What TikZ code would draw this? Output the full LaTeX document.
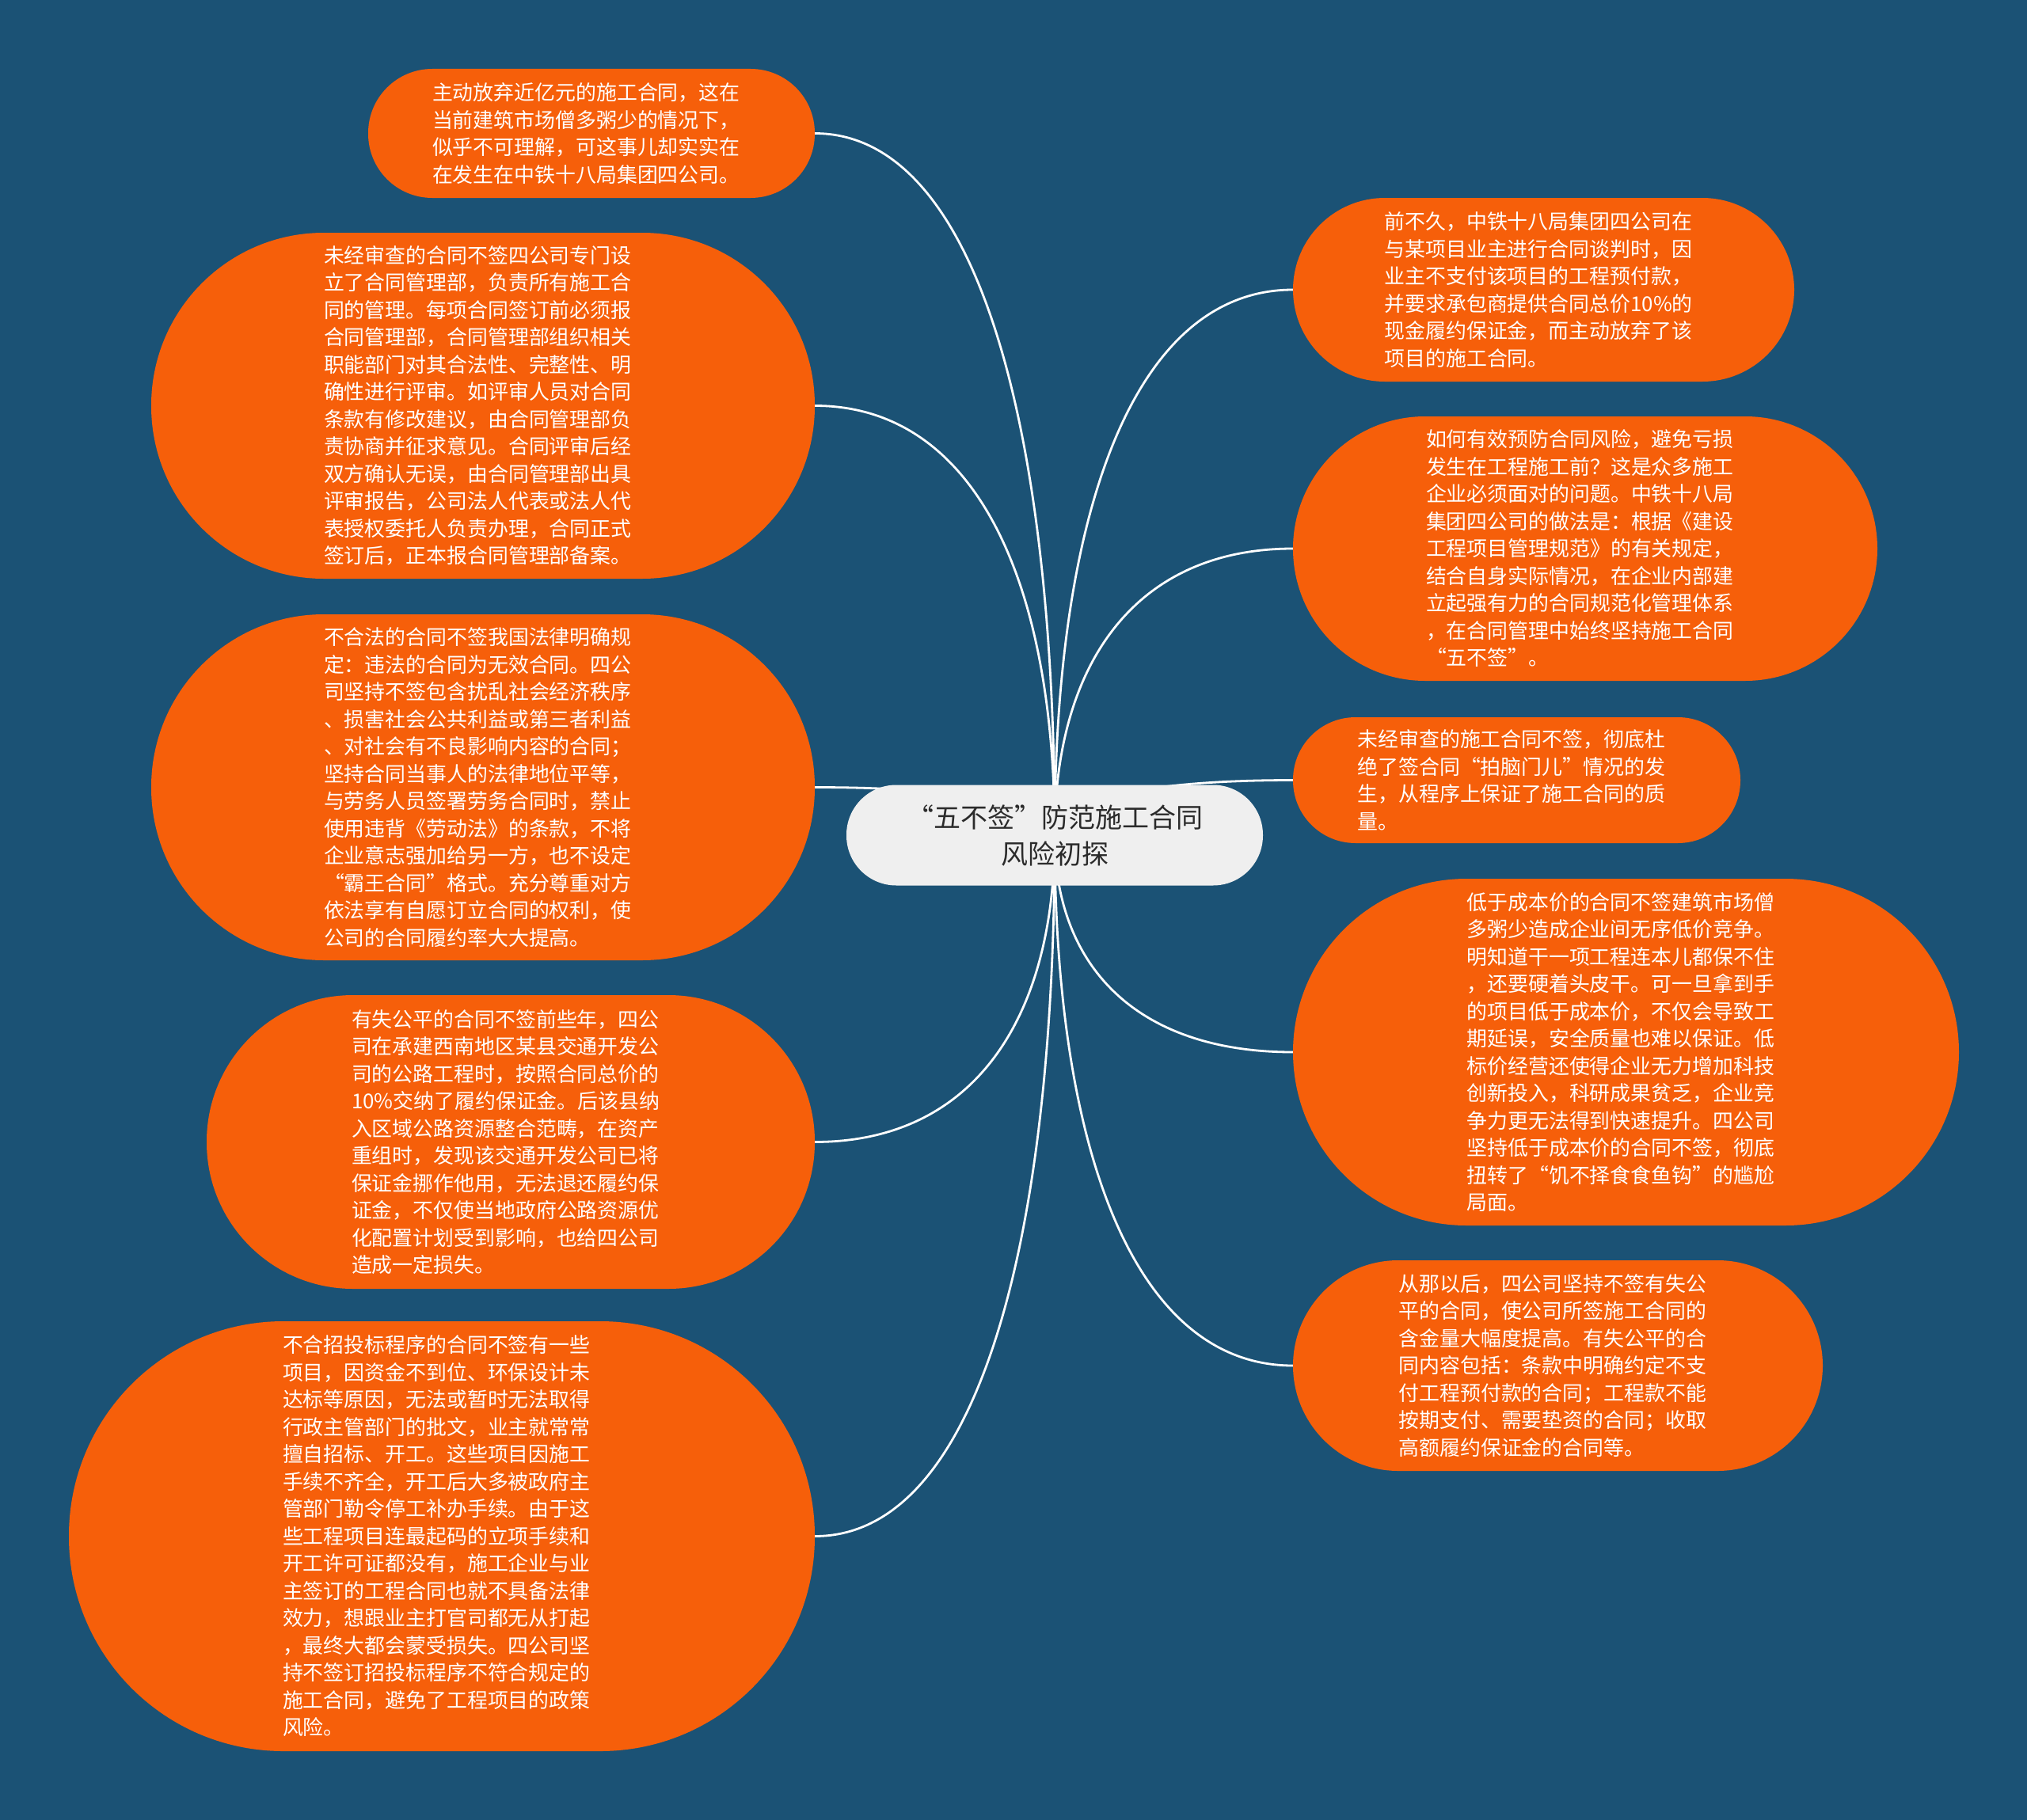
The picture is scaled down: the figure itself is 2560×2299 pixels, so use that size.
\documentclass[tikz,border=0pt]{standalone}
\usepackage{fontspec}
\setmainfont{Noto Sans CJK SC}
\usetikzlibrary{calc}
\definecolor{bgc}{HTML}{1B5275}
\definecolor{orangec}{HTML}{F65F0A}
\definecolor{hubc}{HTML}{EFEFEF}
\definecolor{hubtext}{HTML}{2B2B2B}
\pgfdeclarelayer{bglayer}
\pgfdeclarelayer{edgelayer}
\pgfsetlayers{bglayer,edgelayer,main}
\tikzset{
  leaf/.style={fill=orangec, text=white, align=left, inner sep=0pt, text width=402pt,
    font=\fontsize{25.9pt}{34.5pt}\selectfont},
  hub/.style={fill=hubc, text=hubtext, align=center, inner sep=0pt,
    font=\fontsize{34pt}{46pt}\selectfont},
  branch/.style={draw=white, line width=2.8pt,
    to path={.. controls ($(\tikztostart)!0.66!(\tikztotarget |- \tikztostart)$) and ($(\tikztotarget)!0.6!(\tikztotarget |- \tikztostart)$) .. (\tikztotarget)}}
}
\begin{document}
\begin{tikzpicture}[x=1pt,y=-1pt]
\begin{pgfonlayer}{bglayer}
\fill[bgc] (0,0) rectangle (2560,2299);
\end{pgfonlayer}
\useasboundingbox (0,0) rectangle (2560,2299);

\node[hub, minimum width=526pt, minimum height=127pt, rounded corners=63pt] (C) at (1332,1055) {“五不签”防范施工合同\\风险初探};

% left
\node[leaf, minimum width=564pt, minimum height=163pt, rounded corners=81pt] (L1) at (747,168.5) {主动放弃近亿元的施工合同，这在\\当前建筑市场僧多粥少的情况下，\\似乎不可理解，可这事儿却实实在\\在发生在中铁十八局集团四公司。};

\node[leaf, minimum width=838pt, minimum height=437pt, rounded corners=218pt] (L2) at (610,512.5) {未经审查的合同不签四公司专门设\\立了合同管理部，负责所有施工合\\同的管理。每项合同签订前必须报\\合同管理部，合同管理部组织相关\\职能部门对其合法性、完整性、明\\确性进行评审。如评审人员对合同\\条款有修改建议，由合同管理部负\\责协商并征求意见。合同评审后经\\双方确认无误，由合同管理部出具\\评审报告，公司法人代表或法人代\\表授权委托人负责办理，合同正式\\签订后，正本报合同管理部备案。};

\node[leaf, minimum width=838pt, minimum height=437pt, rounded corners=218pt] (L3) at (610,994.5) {不合法的合同不签我国法律明确规\\定：违法的合同为无效合同。四公\\司坚持不签包含扰乱社会经济秩序\\、损害社会公共利益或第三者利益\\、对社会有不良影响内容的合同；\\坚持合同当事人的法律地位平等，\\与劳务人员签署劳务合同时，禁止\\使用违背《劳动法》的条款，不将\\企业意志强加给另一方，也不设定\\“霸王合同”格式。充分尊重对方\\依法享有自愿订立合同的权利，使\\公司的合同履约率大大提高。};

\node[leaf, minimum width=768pt, minimum height=371pt, rounded corners=185pt] (L4) at (645,1442.5) {有失公平的合同不签前些年，四公\\司在承建西南地区某县交通开发公\\司的公路工程时，按照合同总价的\\10\%交纳了履约保证金。后该县纳\\入区域公路资源整合范畴，在资产\\重组时，发现该交通开发公司已将\\保证金挪作他用，无法退还履约保\\证金，不仅使当地政府公路资源优\\化配置计划受到影响，也给四公司\\造成一定损失。};

\node[leaf, minimum width=942pt, minimum height=543pt, rounded corners=271pt] (L5) at (558,1940.5) {不合招投标程序的合同不签有一些\\项目，因资金不到位、环保设计未\\达标等原因，无法或暂时无法取得\\行政主管部门的批文，业主就常常\\擅自招标、开工。这些项目因施工\\手续不齐全，开工后大多被政府主\\管部门勒令停工补办手续。由于这\\些工程项目连最起码的立项手续和\\开工许可证都没有，施工企业与业\\主签订的工程合同也就不具备法律\\效力，想跟业主打官司都无从打起\\，最终大都会蒙受损失。四公司坚\\持不签订招投标程序不符合规定的\\施工合同，避免了工程项目的政策\\风险。};

% right
\node[leaf, minimum width=633pt, minimum height=232pt, rounded corners=116pt] (R1) at (1949.5,366) {前不久，中铁十八局集团四公司在\\与某项目业主进行合同谈判时，因\\业主不支付该项目的工程预付款，\\并要求承包商提供合同总价10\%的\\现金履约保证金，而主动放弃了该\\项目的施工合同。};

\node[leaf, minimum width=738pt, minimum height=334pt, rounded corners=167pt] (R2) at (2002,693) {如何有效预防合同风险，避免亏损\\发生在工程施工前？这是众多施工\\企业必须面对的问题。中铁十八局\\集团四公司的做法是：根据《建设\\工程项目管理规范》的有关规定，\\结合自身实际情况，在企业内部建\\立起强有力的合同规范化管理体系\\，在合同管理中始终坚持施工合同\\“五不签”。};

\node[leaf, minimum width=565pt, minimum height=159pt, rounded corners=79pt] (R3) at (1915.5,985.5) {未经审查的施工合同不签，彻底杜\\绝了签合同“拍脑门儿”情况的发\\生，从程序上保证了施工合同的质\\量。};

\node[leaf, minimum width=841pt, minimum height=438pt, rounded corners=219pt] (R4) at (2053.5,1329) {低于成本价的合同不签建筑市场僧\\多粥少造成企业间无序低价竞争。\\明知道干一项工程连本儿都保不住\\，还要硬着头皮干。可一旦拿到手\\的项目低于成本价，不仅会导致工\\期延误，安全质量也难以保证。低\\标价经营还使得企业无力增加科技\\创新投入，科研成果贫乏，企业竞\\争力更无法得到快速提升。四公司\\坚持低于成本价的合同不签，彻底\\扭转了“饥不择食食鱼钩”的尴尬\\局面。};

\node[leaf, minimum width=669pt, minimum height=266pt, rounded corners=133pt] (R5) at (1967.5,1725) {从那以后，四公司坚持不签有失公\\平的合同，使公司所签施工合同的\\含金量大幅度提高。有失公平的合\\同内容包括：条款中明确约定不支\\付工程预付款的合同；工程款不能\\按期支付、需要垫资的合同；收取\\高额履约保证金的合同等。};

\begin{pgfonlayer}{edgelayer}
\foreach \n in {L1,L2,L3,L4,L5} {
  \draw[branch] (\n.east) to (C.center);
}
\foreach \n in {R1,R2,R3,R4,R5} {
  \draw[branch] (\n.west) to (C.center);
}
\end{pgfonlayer}
\end{tikzpicture}
\end{document}
